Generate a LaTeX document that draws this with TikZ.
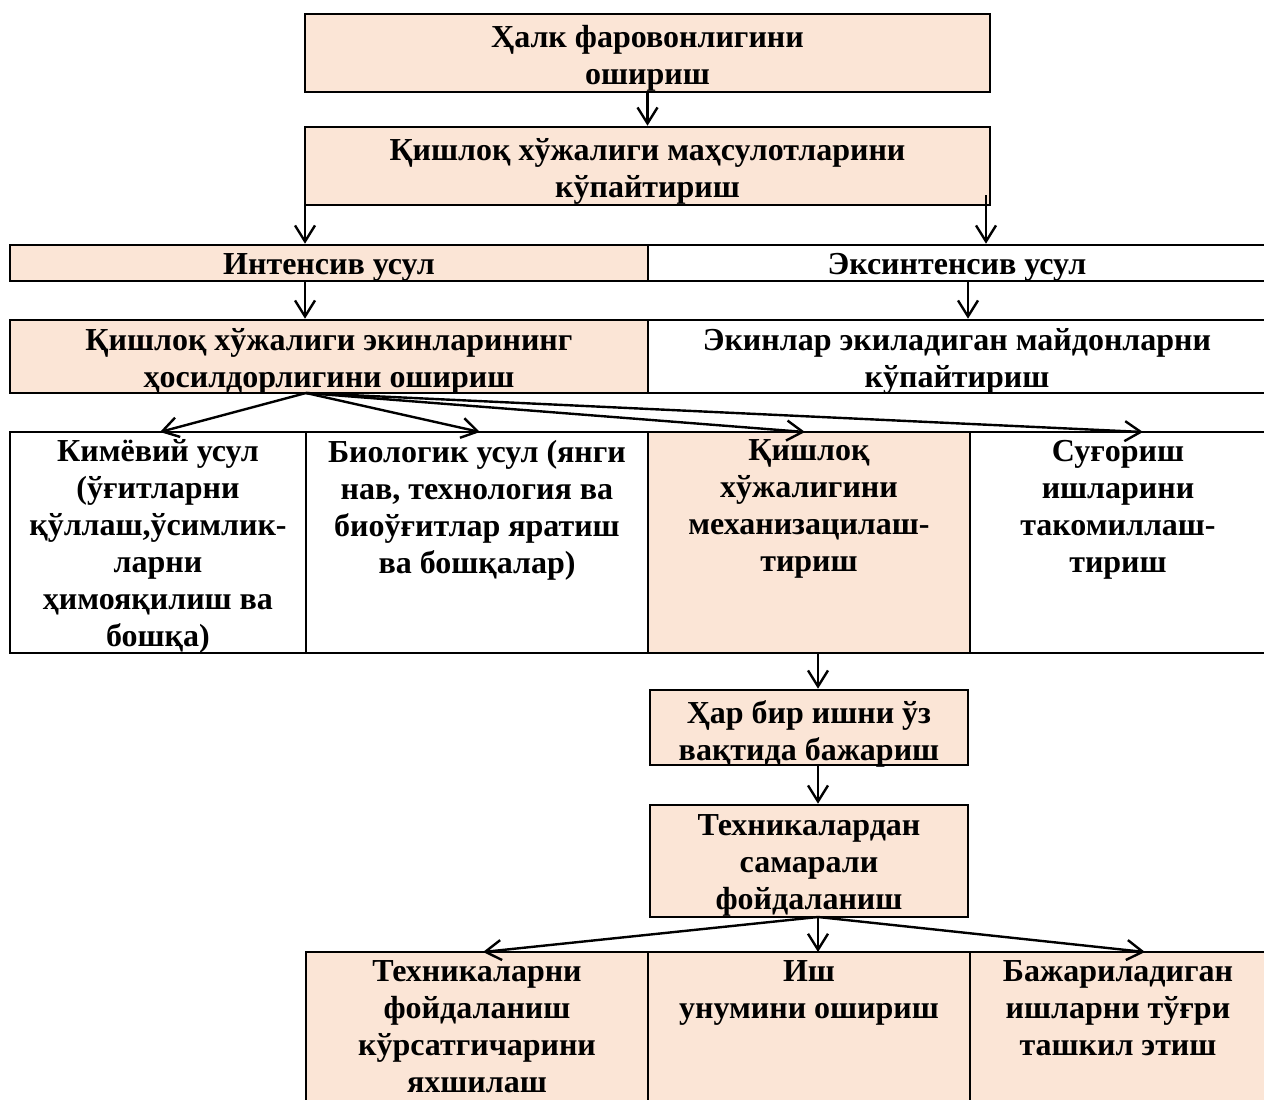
\documentclass[tikz,border=0pt]{standalone}
\usepackage{fontspec}
\setmainfont{Liberation Serif}
\usetikzlibrary{arrows.meta}
\definecolor{peach}{HTML}{FBE5D6}
\begin{document}
\begin{tikzpicture}[x=1pt,y=-1pt,
  txt/.style={font=\fontsize{32}{37}\selectfont\bfseries, align=center, inner sep=0pt},
  cell/.style={draw, line width=2.6pt, inner sep=0pt},
  pcell/.style={cell, fill=peach},
  wcell/.style={cell, fill=white},
  arr/.style={line width=2.4pt, -{Straight Barb[length=16pt,width=20pt,line width=2.4pt]}}
]
\useasboundingbox (0,0) rectangle (1264,1100);
\clip (0,0) rectangle (1264,1100);

% top boxes
\node[pcell, minimum width=685pt, minimum height=78pt] (A) at (647.5,53) {};
\node[pcell, minimum width=685pt, minimum height=78pt] (B) at (647.5,166) {};
\node[txt] (At) at ([yshift=-5pt]A.center) {Ҳалк фаровонлигини\\ошириш};
\node[txt] (Bt) at ([yshift=-5pt]B.center) {Қишлоқ хўжалиги маҳсулотларини\\кўпайтириш};

% row C
\node[pcell, minimum width=638pt, minimum height=36pt] (Cl) at (329,263) {};
\node[wcell, minimum width=618pt, minimum height=36pt] (Cr) at (957,263) {};
\node[txt] (Clt) at ([yshift=-4pt]Cl.center) {Интенсив усул};
\node[txt] (Crt) at ([yshift=-4pt]Cr.center) {Эксинтенсив усул};

% row D
\node[pcell, minimum width=638pt, minimum height=73pt] (Dl) at (329,356.5) {};
\node[wcell, minimum width=618pt, minimum height=73pt] (Dr) at (957,356.5) {};
\node[txt] (Dlt) at ([yshift=-5pt]Dl.center) {Қишлоқ хўжалиги экинларининг\\ҳосилдорлигини ошириш};
\node[txt] (Drt) at ([yshift=-5pt]Dr.center) {Экинлар экиладиган майдонларни\\кўпайтириш};

% row E
\node[wcell, minimum width=296pt, minimum height=221pt] (E1) at (158,542.5) {};
\node[wcell, minimum width=342pt, minimum height=221pt] (E2) at (477,542.5) {};
\node[pcell, minimum width=322pt, minimum height=221pt] (E3) at (809,542.5) {};
\node[wcell, minimum width=296pt, minimum height=221pt] (E4) at (1118,542.5) {};
\node[txt, anchor=north] (E1t) at ([yshift=-9pt]E1.north) {Кимёвий усул\\(ўғитларни\\қўллаш,ўсимлик-\\ларни\\ҳимояқилиш ва\\бошқа)};
\node[txt, anchor=north] (E2t) at ([yshift=-9pt]E2.north) {Биологик усул (янги\\нав, технология ва\\биоўғитлар яратиш\\ва бошқалар)};
\node[txt, anchor=north] (E3t) at ([yshift=-9pt]E3.north) {Қишлоқ\\хўжалигини\\механизацилаш-\\тириш};
\node[txt, anchor=north] (E4t) at ([yshift=-9pt]E4.north) {Суғориш\\ишларини\\такомиллаш-\\тириш};

% F, G
\node[pcell, minimum width=318pt, minimum height=75pt] (F) at (809,727.5) {};
\node[pcell, minimum width=318pt, minimum height=112pt] (G) at (809,861) {};
\node[txt] (Ft) at ([yshift=-6pt]F.center) {Ҳар бир ишни ўз\\вақтида бажариш};
\node[txt] (Gt) at ([yshift=-4pt]G.center) {Техникалардан\\самарали\\фойдаланиш};

% row H
\node[pcell, minimum width=342pt, minimum height=158pt] (H1) at (477,1031) {};
\node[pcell, minimum width=322pt, minimum height=158pt] (H2) at (809,1031) {};
\node[pcell, minimum width=296pt, minimum height=158pt] (H3) at (1118,1031) {};
\node[txt, anchor=north] (H1t) at ([yshift=-10pt]H1.north) {Техникаларни\\фойдаланиш\\кўрсатгичарини\\яхшилаш};
\node[txt, anchor=north] (H2t) at ([yshift=-10pt]H2.north) {Иш\\унумини ошириш};
\node[txt, anchor=north] (H3t) at ([yshift=-10pt]H3.north) {Бажариладиган\\ишларни тўғри\\ташкил этиш};

% connector points
\coordinate (bL) at (305,195);
\coordinate (bR) at (986,195);
\coordinate (cL) at (305,281);
\coordinate (cR) at (968,281);
\coordinate (fd) at (306,393);
\coordinate (e1a) at (160,432);
\coordinate (e2a) at (480,432);
\coordinate (e3a) at (805,432);
\coordinate (e4a) at (1143,432);
\coordinate (ef) at (818,653);
\coordinate (fg) at (818,765);
\coordinate (gf) at (818,917);
\coordinate (h1a) at (483,952);
\coordinate (h2a) at (818,952);
\coordinate (h3a) at (1145,952);

% arrows
\draw[arr] (A.south) -- (B.north);
\draw[arr] (bL) -- (bL |- Cl.north);
\draw[arr] (bR) -- (bR |- Cr.north);
\draw[arr] (cL) -- (cL |- Dl.north);
\draw[arr] (cR) -- (cR |- Dr.north);
\draw[arr] (fd) -- (e1a);
\draw[arr] (fd) -- (e2a);
\draw[arr] (fd) -- (e3a);
\draw[arr] (fd) -- (e4a);
\draw[arr] (ef) -- (ef |- F.north);
\draw[arr] (fg) -- (fg |- G.north);
\draw[arr] (gf) -- (h1a);
\draw[arr] (gf) -- (h2a);
\draw[arr] (gf) -- (h3a);
\end{tikzpicture}
\end{document}
